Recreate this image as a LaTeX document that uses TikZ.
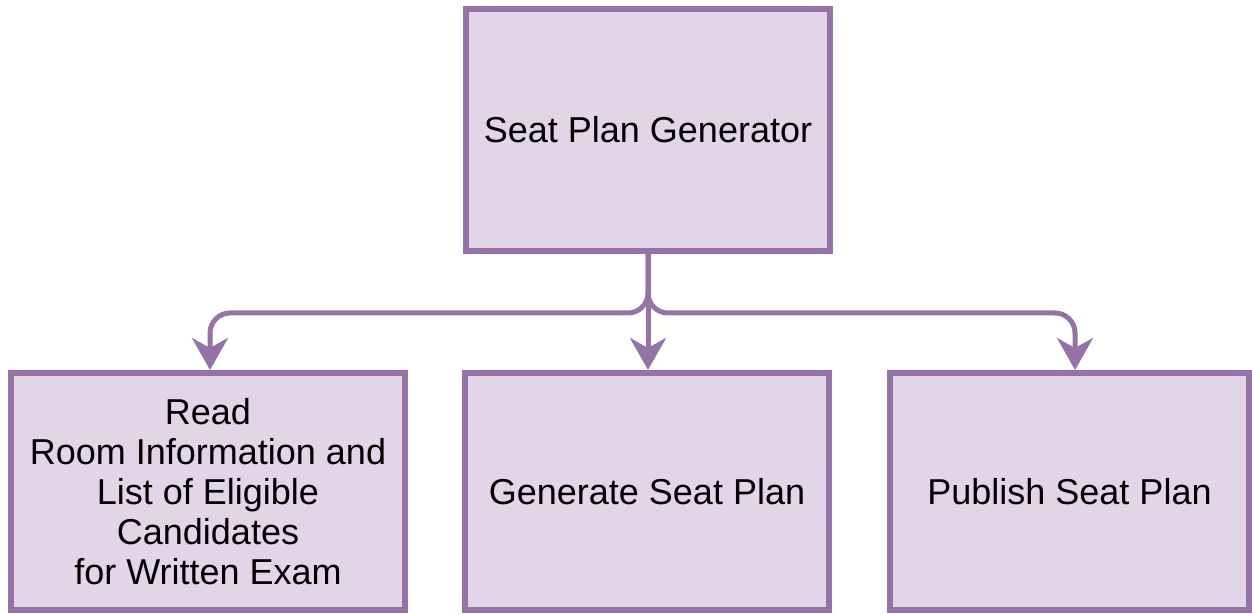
\documentclass[tikz,border=0pt]{standalone}
\usepackage{fontspec}
\setmainfont{Liberation Sans}
\usetikzlibrary{arrows.meta}
\definecolor{planfill}{HTML}{E1D5E7}
\definecolor{planline}{HTML}{9673A6}
\tikzset{x=0.5pt, y=-0.5pt,
     plan box/.style={draw=planline, fill=planfill, line width=3pt,
           align=center, inner sep=0pt,
           font=\fontsize{18}{20}\selectfont},
     plan link/.style={draw=planline, line width=2.5pt, rounded corners=10pt,
           -{Stealth[length=16pt, width=18pt, inset=5pt]}}
     }
\def\Stage#1#2#3#4{%
\node[plan box, minimum width=#3, minimum height=118.5pt] (#1) at (#2,491.5) {#4};
}

\begin{document}
\begin{tikzpicture}
\useasboundingbox (0,0) rectangle (1252,614);
\node[plan box, minimum width=182pt, minimum height=121pt] (gen) at (648,130) {Seat Plan Generator};
\Stage{read}{208}{197pt}{Read\\Room Information and\\List of Eligible\\Candidates\\for Written Exam}
\Stage{make}{647}{182pt}{Generate Seat Plan}
\Stage{publish}{1069.5}{179.5pt}{Publish Seat Plan}
\foreach \s/\dx in {read/1pt, make/0.5pt, publish/2.75pt}
  \draw[plan link] (gen.south) -- (gen.south |- 0,313) -| ([xshift=\dx]\s.north);
\end{tikzpicture}
\end{document}
